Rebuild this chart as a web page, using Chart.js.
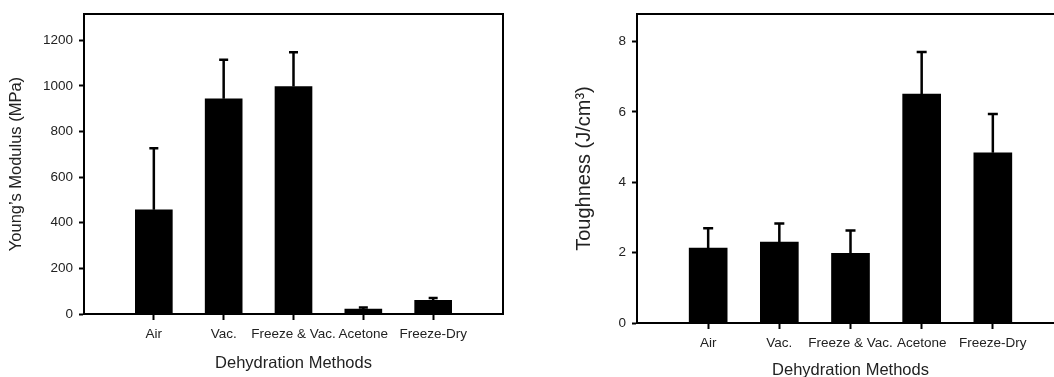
<!DOCTYPE html>
<html>
<head>
<meta charset="utf-8">
<script src="https://cdn.jsdelivr.net/npm/chart.js@4"></script>
<style>
  html, body { margin: 0; padding: 0; background: #fff; overflow: hidden; }
  body { width: 1054px; height: 377px; position: relative; }
  #wrap-left  { position: absolute; left: 0;     top: 0; width: 520px; height: 377px; }
  #wrap-right { position: absolute; left: 530px; top: 0; width: 560px; height: 390px; }
</style>
</head>
<body>
<div id="wrap-left"><canvas id="chart-left"></canvas></div>
<div id="wrap-right"><canvas id="chart-right"></canvas></div>
<script>
// ── Data ───────────────────────────────────────────────────────────────────────
const categories   = ["Air", "Vac.", "Freeze & Vac.", "Acetone", "Freeze-Dry"];

const modulusMean  = [457, 944, 997, 22, 60];      // MPa
const modulusSd    = [270, 171, 151, 7, 10];
const modulusTicks = [0, 200, 400, 600, 800, 1000, 1200];
const modulusMax   = 1315;

const toughMean    = [2.13, 2.30, 1.98, 6.51, 4.84]; // J/cm3
const toughSd      = [0.56, 0.53, 0.65, 1.19, 1.10];
const toughTicks   = [0, 2, 4, 6, 8];
const toughMax     = 8.78;

// ── Shared styling ─────────────────────────────────────────────────────────────
const FONT = "'Liberation Sans', Arial, Helvetica, sans-serif";
const INK  = "#222";

// empty slot at each end, as in the original plot
const slotLabels = ["", ...categories, ""];
const pad = arr => [null, ...arr, null];

// draws the upward-only error bars from the scales
const errorBars = {
  id: "errorBars",
  afterDatasetsDraw(chart, args, opts) {
    const { ctx, scales: { x, y } } = chart;
    const mean = chart.data.datasets[0].data;
    const sd = opts.sd;
    ctx.save();
    ctx.strokeStyle = "#000";
    ctx.lineWidth = 2.5;
    mean.forEach((m, i) => {
      if (m == null) return;
      const px = x.getPixelForValue(i);
      const y0 = y.getPixelForValue(m);
      const y1 = y.getPixelForValue(m + sd[i - 1]);
      ctx.beginPath();
      ctx.moveTo(px, y0);
      ctx.lineTo(px, y1);
      ctx.moveTo(px - opts.cap, y1);
      ctx.lineTo(px + opts.cap, y1);
      ctx.stroke();
    });
    ctx.restore();
  },
};

// top and right edges of the plot frame
const frame = {
  id: "frame",
  afterDraw(chart) {
    const { ctx, chartArea: a } = chart;
    ctx.save();
    ctx.strokeStyle = "#000";
    ctx.lineWidth = 2;
    ctx.beginPath();
    ctx.moveTo(a.left - 1, a.top);
    ctx.lineTo(a.right, a.top);
    ctx.lineTo(a.right, a.bottom + 1);
    ctx.stroke();
    ctx.restore();
  },
};

function makeChart(id, g) {
  return new Chart(document.getElementById(id), {
    type: "bar",
    data: {
      labels: slotLabels,
      datasets: [{
        data: pad(g.mean),
        backgroundColor: "#000",
        borderWidth: 0,
        barThickness: g.barW,
      }],
    },
    plugins: [errorBars, frame],
    options: {
      responsive: true,
      maintainAspectRatio: false,
      animation: false,
      layout: { padding: { top: 14, right: g.padRight, left: 0, bottom: 0 } },
      plugins: {
        legend: { display: false },
        tooltip: { enabled: false },
        errorBars: { sd: g.sd, cap: g.cap },
      },
      scales: {
        x: {
          type: "category",
          offset: false,
          grid: {
            offset: false,
            drawOnChartArea: false,
            drawTicks: true,
            tickLength: 6,
            tickWidth: 2,
            tickColor: c => (slotLabels[c.index] ? "#000" : "rgba(0,0,0,0)"),
          },
          border: { display: true, color: "#000", width: 2 },
          ticks: {
            autoSkip: false, maxRotation: 0, minRotation: 0,
            padding: 6.5, color: INK,
            font: { family: FONT, size: 13.5 },
          },
          title: {
            display: true, text: "Dehydration Methods", color: INK,
            font: { family: FONT, size: 16.5 },
            padding: { top: 0, bottom: g.xTitlePad },
          },
          afterFit: s => { s.height = g.xAxisH; },
        },
        y: {
          min: 0, max: g.yMax,
          grid: {
            drawOnChartArea: false,
            drawTicks: true,
            tickLength: 5,
            tickWidth: 2,
            tickColor: "#000",
          },
          border: { display: true, color: "#000", width: 2 },
          afterBuildTicks: s => { s.ticks = g.ticks.map(v => ({ value: v })); },
          ticks: {
            padding: 6, color: INK,
            font: { family: FONT, size: 13.5 },
            callback: v => String(v),
          },
          title: {
            display: true, text: g.yTitle, color: INK,
            font: { family: FONT, size: g.yTitleSize },
            padding: { top: g.yTitlePad, bottom: 0 },
          },
          afterFit: s => { s.width = g.yAxisW; },
        },
      },
    },
  });
}

makeChart("chart-left", {
  mean: modulusMean, sd: modulusSd, ticks: modulusTicks, yMax: modulusMax,
  yTitle: "Young\u2019s Modulus (MPa)", yTitleSize: 16.5,
  barW: 37, cap: 4.5, padRight: 17,
  yAxisW: 84, xAxisH: 63, yTitlePad: 7, xTitlePad: 4,
});

makeChart("chart-right", {
  mean: toughMean, sd: toughSd, ticks: toughTicks, yMax: toughMax,
  yTitle: "Toughness (J/cm\u00b3)", yTitleSize: 20,
  barW: 38, cap: 5, padRight: 26,
  yAxisW: 107, xAxisH: 67, yTitlePad: 42, xTitlePad: 9.5,
});
</script>
</body>
</html>
